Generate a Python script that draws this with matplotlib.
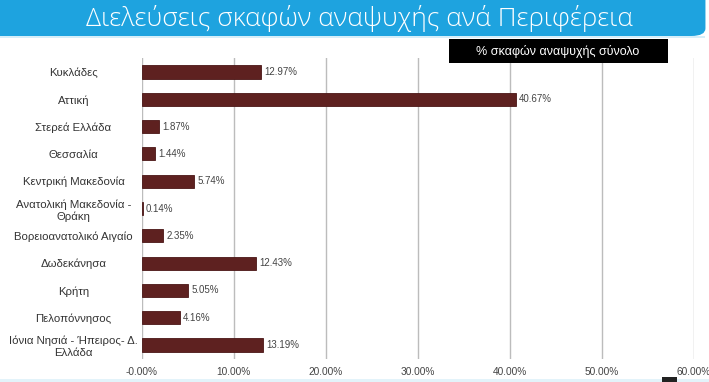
import matplotlib
matplotlib.use("Agg")
import matplotlib.pyplot as plt
from matplotlib.patches import FancyBboxPatch, Rectangle
from matplotlib.font_manager import fontManager

names = {f.name for f in fontManager.ttflist}
narrow = "Liberation Sans Narrow" if "Liberation Sans Narrow" in names else "Liberation Sans"

title = "Διελεύσεις σκαφών αναψυχής ανά Περιφέρεια"
legend_label = "% σκαφών αναψυχής σύνολο"
categories = ["Κυκλάδες", "Αττική", "Στερεά Ελλάδα", "Θεσσαλία", "Κεντρική Μακεδονία",
              "Ανατολική Μακεδονία -\nΘράκη", "Βορειοανατολικό Αιγαίο", "Δωδεκάνησα",
              "Κρήτη", "Πελοπόννησος", "Ιόνια Νησιά - Ήπειρος- Δ.\nΕλλάδα"]
values = [12.97, 40.67, 1.87, 1.44, 5.74, 0.14, 2.35, 12.43, 5.05, 4.16, 13.19]
xticks = [0, 10, 20, 30, 40, 50, 60]
xtick_labels = ["-0.00%", "10.00%", "20.00%", "30.00%", "40.00%", "50.00%", "60.00%"]

fig = plt.figure(figsize=(7.09, 3.82), dpi=100)
fig.patch.set_facecolor("white")

# banner
banner = FancyBboxPatch((-0.02, 1 - 36/382), 1.015, 0.2, boxstyle="round,pad=0,rounding_size=0.02",
                        transform=fig.transFigure, facecolor="#1ea3df", edgecolor="none")
fig.patches.append(banner)
fig.patches.append(Rectangle((0, 1 - 38/382), 0.995, 2/382, transform=fig.transFigure,
                             facecolor="#d6eef9", edgecolor="none"))
fig.text(359/709, 1 - 18/382, title, ha="center", va="center", color="white",
         fontsize=19, family=["Open Sans", "DejaVu Sans"], fontweight="light")

# legend box
fig.patches.append(Rectangle((449/709, 1 - 63/382), 219/709, 24/382, transform=fig.transFigure,
                             facecolor="black", edgecolor="none", zorder=5))
fig.text(558/709, 1 - 51/382, legend_label, ha="center", va="center", color="white",
         fontsize=9, family=[narrow, "DejaVu Sans"], zorder=6)

# bottom decorations
fig.patches.append(Rectangle((0, 0), 1, 3/382, transform=fig.transFigure,
                             facecolor="#e3f3fa", edgecolor="none"))
fig.patches.append(Rectangle((662/709, 0), 15/709, 5/382, transform=fig.transFigure,
                             facecolor="#222222", edgecolor="none"))

ax = fig.add_axes([141.5/709, 1 - 358.6/382, (694 - 141.5)/709, (358.6 - 58.4)/382])
ypos = list(range(len(categories)))
ax.barh(ypos, values, height=0.48, color="#5e2120", edgecolor="#4a1616", linewidth=0.6, zorder=3)
for y, v in zip(ypos, values):
    ax.text(v + 0.35, y, f"{v:.2f}%", va="center", ha="left", fontsize=7,
            family=[narrow, "DejaVu Sans"], color="#444444", zorder=4)
ax.set_ylim(len(categories) - 0.5, -0.5)
ax.set_xlim(0, 60)
ax.set_xticks(xticks)
ax.set_xticklabels(xtick_labels, family=[narrow, "DejaVu Sans"], fontsize=7.3, color="#444444")
ax.set_yticks(ypos)
ax.set_yticklabels(categories, family=[narrow, "DejaVu Sans"], fontsize=8.2, color="#333333",
                   linespacing=1.2, ha="center")
ax.tick_params(axis="y", length=0, pad=49)
ax.tick_params(axis="x", length=0, pad=6)
ax.grid(axis="x", color="#bcbcbc", linewidth=1.0, zorder=0)
for s in ax.spines.values():
    s.set_visible(False)
ax.set_facecolor("none")

fig.savefig("out.png", dpi=100, facecolor="white")
